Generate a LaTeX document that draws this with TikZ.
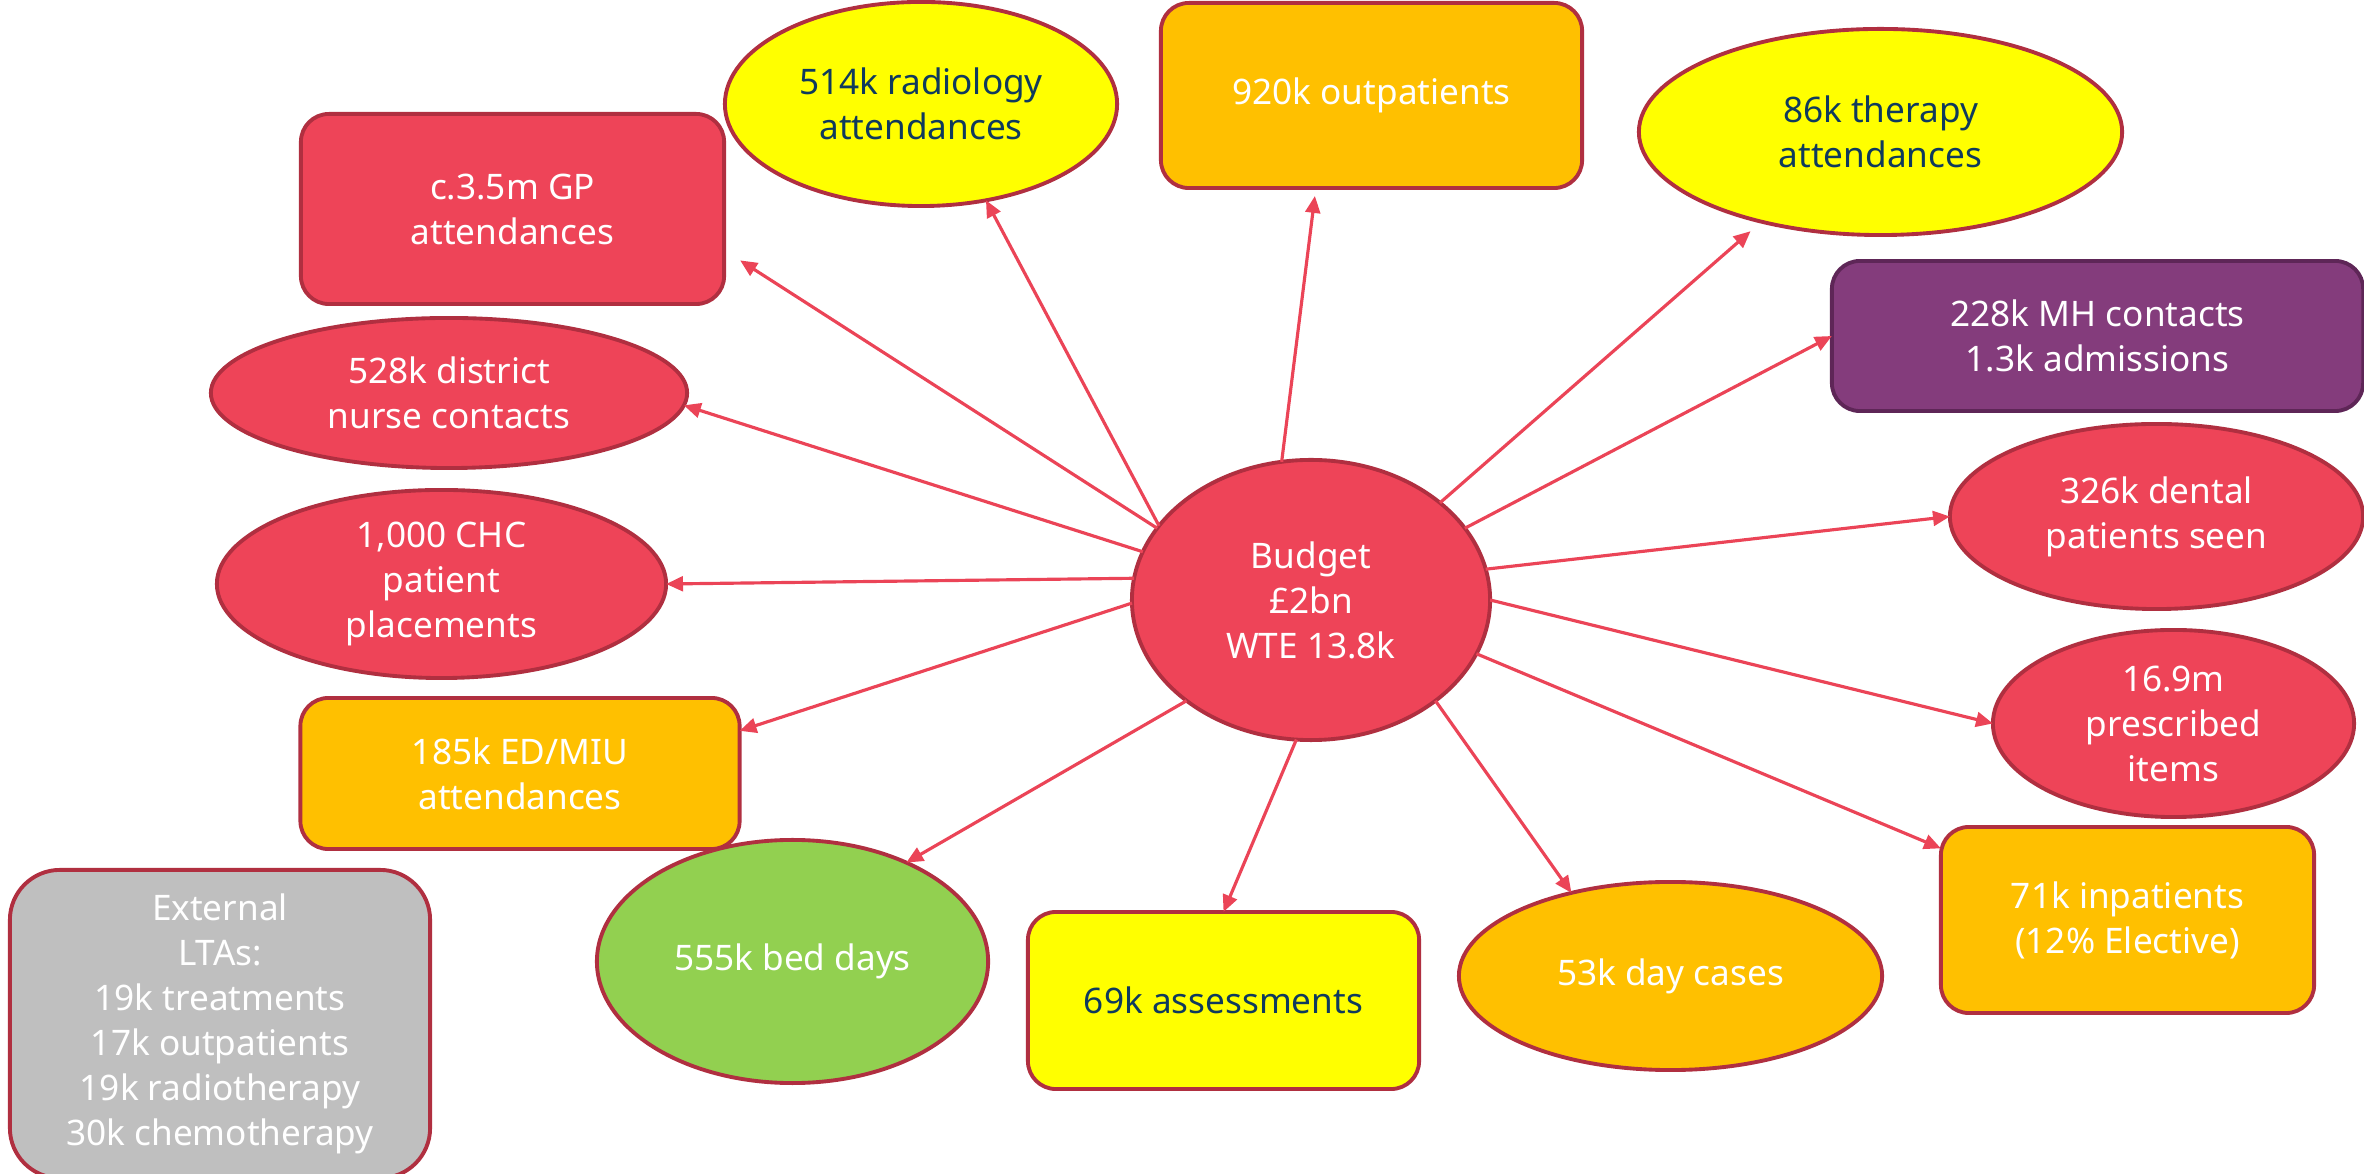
\documentclass[tikz,border=0pt]{standalone}
\usepackage{fontspec}
\setmainfont{Noto Sans}
\usetikzlibrary{shapes.geometric,arrows.meta}
\definecolor{cred}{HTML}{EE4458}
\definecolor{cbord}{HTML}{B02F40}
\definecolor{cline}{HTML}{EB4457}
\definecolor{cyel}{HTML}{FFFF00}
\definecolor{corg}{HTML}{FFC000}
\definecolor{cgrn}{HTML}{92D050}
\definecolor{cpur}{HTML}{843C7C}
\definecolor{cpurb}{HTML}{5E2657}
\definecolor{cgry}{HTML}{BFBFBF}
\definecolor{ctxt}{HTML}{0F3A5D}
\begin{document}
\begin{tikzpicture}[x=0.01cm,y=-0.01cm,
  base/.style={draw=cbord,line width=1.1pt,inner sep=0pt,outer sep=0pt,align=center,text=white,font=\fontsize{10}{12.8}\selectfont},
  ell/.style={base,ellipse},
  box/.style={base,rectangle,rounded corners=0.28cm},
  arr/.style={draw=cline,line width=0.9pt,-{Triangle[length=4.8pt,width=4.2pt]}},
]
\useasboundingbox (0,0) rectangle (2364,1174);

\node[ell,fill=cred,minimum width=3.58cm,minimum height=2.8cm] (B) at (1311,600) {Budget\\£2bn\\WTE 13.8k};
\node[box,fill=cred,minimum width=4.23cm,minimum height=1.90cm] (gp) at (512.5,209) {c.3.5m GP\\attendances};
\node[ell,fill=cyel,text=ctxt,minimum width=3.92cm,minimum height=2.04cm] (rad) at (921,104) {514k radiology\\attendances};
\node[box,fill=corg,minimum width=4.21cm,minimum height=1.85cm] (op) at (1371.5,95.5) {920k outpatients};
\node[ell,fill=cyel,text=ctxt,minimum width=4.83cm,minimum height=2.06cm] (ther) at (1880.5,132) {86k therapy\\attendances};
\node[box,fill=cpur,draw=cpurb,minimum width=5.31cm,minimum height=1.50cm] (mh) at (2097.5,336) {228k MH contacts\\1.3k admissions};
\node[ell,fill=cred,minimum width=4.13cm,minimum height=1.85cm] (dent) at (2156.5,516.5) {326k dental\\patients seen};
\node[ell,fill=cred,minimum width=3.61cm,minimum height=1.87cm] (presc) at (2173.5,723.5) {16.9m\\prescribed\\items};
\node[box,fill=corg,minimum width=3.73cm,minimum height=1.86cm] (inp) at (2127.5,920) {71k inpatients\\(12\% Elective)};
\node[ell,fill=corg,minimum width=4.23cm,minimum height=1.88cm] (day) at (1670.5,976) {53k day cases};
\node[box,fill=cyel,text=ctxt,minimum width=3.91cm,minimum height=1.77cm] (ass) at (1223.5,1000.5) {69k assessments};
\node[ell,fill=cgrn,minimum width=3.91cm,minimum height=2.43cm] (bed) at (792.5,961.5) {555k bed days};
\node[box,fill=cgry,rounded corners=0.5cm,minimum width=4.2cm,minimum height=3.08cm] (ext) at (220,1024) {External\\LTAs:\\19k treatments\\17k outpatients\\19k radiotherapy\\30k chemotherapy};
\node[box,fill=corg,minimum width=4.39cm,minimum height=1.51cm] (ed) at (520,773.5) {185k ED/MIU\\attendances};
\node[ell,fill=cred,minimum width=4.49cm,minimum height=1.88cm] (chc) at (441.5,584) {1,000 CHC\\patient\\placements};
\node[ell,fill=cred,minimum width=4.76cm,minimum height=1.50cm] (dn) at (449,393) {528k district\\nurse contacts};

\draw[arr,shorten >=0.19cm] (B.155.25) -- (gp.-11.7);
\draw[arr] (B.154.15) -- (rad.-56.6);
\draw[arr,shorten >=0.08cm] (B.102.84) -- (op.-121.9);
\draw[arr,shorten >=0.145cm] (B.37.7) -- (ther.-143.4);
\draw[arr] (B.25.07) -- (mh.west);
\draw[arr] (B.10.56) -- (dent.west);
\draw[arr] (B.-0.95) -- (presc.west);
\draw[arr] (B.-18.64) -- (inp.159.6);
\draw[arr] (B.-39.04) -- (day.140.8);
\draw[arr] (B.-96.97) -- (ass.north);
\draw[arr] (B.-141.17) -- (bed.41.4);
\draw[arr] (B.-179.4) -- (ed.11.9);
\draw[arr] (B.173.0) -- (chc.east);
\draw[arr] (B.164.05) -- (dn.-3.1);
\end{tikzpicture}
\end{document}
